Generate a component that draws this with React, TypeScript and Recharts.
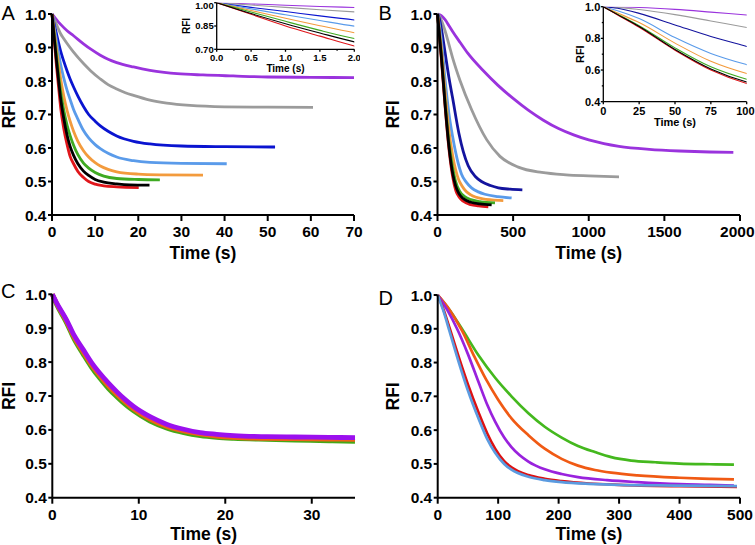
import React from 'react';
import { LineChart, Line, XAxis, YAxis, Label } from 'recharts';

type Pt = [number, number];

// ---------- Panel A (time s, RFI) ----------
const A_PURPLE: Pt[] = [[0,1],[0.5,0.992],[1,0.984],[1.5,0.976],[2,0.969],[3.5,0.95],[5,0.935],[7.3,0.911],[9,0.895],[11.2,0.877],[13,0.865],[15,0.855],[18.9,0.842],[22.7,0.832],[26,0.826],[29,0.822],[35,0.818],[42,0.815],[50,0.812],[60,0.811],[70,0.81]];
const A_GRAY: Pt[] = [[0,1],[0.5,0.985],[1,0.97],[1.5,0.955],[2,0.941],[2.7,0.927],[3.5,0.912],[5,0.886],[7.3,0.852],[9,0.83],[11.2,0.806],[13,0.789],[15,0.776],[17,0.765],[18.9,0.757],[22.7,0.743],[26.6,0.734],[32,0.727],[40,0.723],[50,0.722],[60.5,0.721]];
const A_BLUE: Pt[] = [[0,1],[0.5,0.97],[1,0.943],[1.5,0.915],[2,0.889],[2.7,0.86],[3.5,0.83],[4.2,0.806],[5,0.782],[6,0.755],[7.3,0.724],[8.5,0.7],[10,0.68],[11.2,0.666],[13,0.65],[15,0.636],[18.9,0.62],[22.7,0.612],[30,0.606],[40,0.604],[51.7,0.603]];
const A_LBLUE: Pt[] = [[0,1],[0.5,0.96],[1,0.922],[1.5,0.885],[2,0.849],[2.7,0.81],[3.5,0.772],[4.2,0.745],[5,0.715],[6,0.686],[7.3,0.652],[8.5,0.63],[10,0.61],[11.2,0.598],[13,0.584],[15,0.573],[18.9,0.562],[22.7,0.557],[30,0.554],[40.5,0.553]];
const A_ORANGE: Pt[] = [[0,1],[0.5,0.95],[1,0.9],[1.5,0.852],[2,0.807],[2.7,0.757],[3.5,0.712],[4.2,0.68],[5,0.65],[6,0.62],[7.3,0.592],[8.5,0.573],[10,0.556],[11.2,0.546],[13,0.536],[15,0.529],[20,0.522],[25,0.52],[35,0.519]];
const A_GREEN: Pt[] = [[0,1],[0.5,0.94],[1,0.88],[1.5,0.822],[2,0.769],[2.7,0.715],[3.5,0.668],[4.2,0.637],[5,0.608],[6,0.58],[7.3,0.555],[8.5,0.54],[10,0.527],[12,0.516],[15,0.509],[20,0.506],[25,0.505]];
const A_BLACK: Pt[] = [[0,1],[0.5,0.93],[1,0.865],[1.5,0.805],[2,0.748],[2.7,0.69],[3.5,0.638],[4.2,0.605],[5,0.578],[6,0.553],[7.3,0.531],[8.5,0.518],[10,0.506],[12,0.498],[15,0.493],[18,0.49],[22.6,0.489]];
const A_RED: Pt[] = [[0,1],[0.5,0.925],[1,0.85],[1.5,0.785],[2,0.721],[2.7,0.66],[3.5,0.61],[4.2,0.575],[5,0.553],[6,0.53],[7.3,0.512],[8.5,0.5],[10,0.492],[12,0.487],[15,0.484],[20.1,0.482]];

// ---------- Panel B ----------
const B_PURPLE: Pt[] = [[0,1],[25,0.995],[50,0.983],[75,0.966],[100,0.948],[150,0.915],[200,0.883],[300,0.832],[400,0.787],[500,0.748],[600,0.713],[700,0.683],[800,0.658],[900,0.639],[1000,0.624],[1100,0.613],[1200,0.605],[1400,0.596],[1600,0.591],[1800,0.588],[1956,0.587]];
const B_GRAY: Pt[] = [[0,1],[10,0.996],[25,0.982],[50,0.95],[75,0.91],[100,0.869],[150,0.8],[225,0.715],[325,0.625],[413,0.575],[534,0.543],[689,0.527],[850,0.52],[1000,0.517],[1200,0.514]];
const B_BLUE: Pt[] = [[0,1],[10,0.99],[25,0.958],[50,0.885],[75,0.812],[100,0.749],[141,0.645],[170,0.59],[203,0.547],[250,0.515],[291,0.5],[350,0.488],[402,0.481],[480,0.477],[561,0.475]];
const B_LBLUE: Pt[] = [[0,1],[10,0.975],[25,0.925],[50,0.805],[75,0.705],[100,0.634],[130,0.567],[159,0.522],[190,0.498],[225,0.481],[270,0.469],[313,0.462],[400,0.455],[490,0.451]];
const B_ORANGE: Pt[] = [[0,1],[10,0.96],[25,0.9],[50,0.77],[75,0.655],[100,0.578],[120,0.535],[140,0.505],[160,0.488],[190,0.47],[220,0.46],[300,0.448],[360,0.445],[435,0.443]];
const B_GREEN: Pt[] = [[0,1],[10,0.953],[25,0.88],[50,0.74],[75,0.62],[100,0.542],[120,0.5],[145,0.472],[180,0.455],[220,0.446],[280,0.44],[380,0.436]];
const B_BLACK: Pt[] = [[0,1],[10,0.95],[25,0.875],[50,0.73],[75,0.607],[100,0.525],[120,0.487],[140,0.465],[170,0.449],[220,0.438],[280,0.433],[358,0.43]];
const B_RED: Pt[] = [[0,1],[10,0.948],[25,0.87],[50,0.725],[75,0.6],[100,0.515],[121,0.473],[145,0.452],[170,0.441],[220,0.431],[270,0.427],[336,0.424]];

// ---------- Panel C ----------
const C_GREEN: Pt[] = [[0,1],[0.5,0.97],[1.66,0.915],[2.5,0.869],[3.6,0.822],[4.5,0.786],[5.5,0.752],[6.5,0.722],[7.45,0.698],[8.4,0.676],[9.4,0.656],[11.3,0.626],[13.2,0.606],[15.2,0.592],[17.1,0.583],[19,0.578],[21,0.575],[24.8,0.572],[28,0.57],[32,0.568],[35,0.566]];
const C_ORANGE: Pt[] = [[0,1],[0.5,0.973],[1.66,0.92],[2.5,0.875],[3.6,0.829],[4.5,0.793],[5.5,0.76],[6.5,0.73],[7.45,0.705],[8.4,0.683],[9.4,0.662],[11.3,0.632],[13.2,0.611],[15.2,0.597],[17.1,0.588],[19,0.582],[21,0.578],[24.8,0.575],[28,0.574],[32,0.573],[35,0.572]];
const C_PURPLE: Pt[] = [[0,1],[0.5,0.975],[1.66,0.924],[2.5,0.88],[3.6,0.836],[4.5,0.8],[5.5,0.767],[6.5,0.738],[7.45,0.713],[8.4,0.69],[9.4,0.669],[11.3,0.639],[13.2,0.617],[15.2,0.602],[17.1,0.592],[19,0.587],[21,0.583],[24.8,0.58],[28,0.579],[32,0.578],[35,0.577]];

// ---------- Panel D ----------
const D_GREEN: Pt[] = [[0,1],[20,0.955],[40,0.9],[68,0.82],[95,0.755],[122,0.7],[150,0.65],[177,0.61],[205,0.578],[232,0.553],[260,0.535],[287,0.52],[320,0.51],[360,0.505],[400,0.501],[450,0.499],[490,0.498]];
const D_ORANGE: Pt[] = [[0,1],[20,0.955],[40,0.895],[60,0.82],[80,0.75],[100,0.69],[122,0.635],[150,0.585],[177,0.545],[205,0.515],[232,0.495],[260,0.482],[287,0.474],[330,0.466],[400,0.459],[450,0.456],[490,0.454]];
const D_PURPLE: Pt[] = [[0,1],[16,0.955],[32,0.9],[50,0.825],[68,0.74],[82,0.675],[95,0.625],[110,0.578],[122,0.55],[150,0.507],[177,0.484],[205,0.47],[232,0.461],[280,0.452],[330,0.446],[400,0.44],[450,0.438],[490,0.436]];
const D_RED: Pt[] = [[0,1],[10,0.955],[20,0.9],[35,0.815],[50,0.735],[68,0.65],[82,0.59],[95,0.545],[110,0.508],[122,0.49],[150,0.467],[177,0.456],[205,0.449],[250,0.442],[300,0.438],[400,0.434],[495,0.432]];
const D_LBLUE: Pt[] = [[0,1],[10,0.95],[20,0.89],[35,0.8],[50,0.717],[68,0.632],[82,0.573],[95,0.533],[110,0.5],[122,0.483],[150,0.462],[177,0.452],[205,0.446],[250,0.441],[300,0.438],[400,0.436],[495,0.434]];

// ---------- Ticks ----------
const MAIN_Y_TICKS = [0.4, 0.5, 0.6, 0.7, 0.8, 0.9, 1.0];
const A_X_TICKS = [0, 10, 20, 30, 40, 50, 60, 70];
const B_X_TICKS = [0, 500, 1000, 1500, 2000];
const C_X_TICKS = [0, 10, 20, 30];
const D_X_TICKS = [0, 100, 200, 300, 400, 500];
const IA_X_TICKS = [0, 0.25, 0.5, 0.75, 1.0, 1.25, 1.5, 1.75, 2.0];
const IA_X_MAJOR = [0, 0.5, 1.0, 1.5, 2.0];
const IA_Y_TICKS = [0.7, 0.85, 1.0];
const IB_X_TICKS = [0, 25, 50, 75, 100];
const IB_Y_TICKS = [0.4, 0.5, 0.6, 0.7, 0.8, 0.9, 1.0];
const IB_Y_MAJOR = [0.4, 0.6, 0.8, 1.0];

const FONT = '"Liberation Sans", Arial, Helvetica, sans-serif';
const PAGE_W = 755;

const PURPLE = '#9A33DD';
const GRAY = '#9B9B9B';
const BLUE_A = '#0A14D0';
const BLUE_B = '#14149E';
const LBLUE = '#5A9BEA';
const ORANGE = '#F39B3D';
const GREEN = '#3FAA22';
const BLACK = '#000000';
const RED = '#E0161B';

interface Series { key: string; data: Pt[]; color: string }
interface AxisCfg {
  domain: [number, number];
  ticks: number[];
  major: number[];
  digits: number;
  tickSize: number;
  tickMargin: number;
  minorSize: number;
}
interface PanelCfg {
  left: number; top: number; width: number; height: number;
  margin: { top: number; right: number; bottom: number; left: number };
  yWidth: number; xHeight: number;
  x: AxisCfg; y: AxisCfg;
  series: Series[];
  strokeWidth: number;
  tickFont: number; titleFont: number; axisStroke: number;
  xTitleBaseline: number;
  yTitleX: number;
  clip?: boolean;
}

const isIn = (arr: number[], v: number) => arr.some((m) => Math.abs(m - v) < 1e-9);
const rows = (pts: Pt[]) => pts.map(([t, v]) => ({ t, v }));

function Panel({ c }: { c: PanelCfg }) {
  const plotLeft = c.margin.left + c.yWidth;
  const plotW = c.width - c.margin.left - c.margin.right - c.yWidth;
  const plotTop = c.margin.top;
  const plotH = c.height - c.margin.top - c.margin.bottom - c.xHeight;
  const plotBottom = plotTop + plotH;

  const yTick = (p: any) => {
    const { x, y, payload } = p;
    const v = payload.value as number;
    const maj = isIn(c.y.major, v);
    const ax = x + c.y.tickSize + c.y.tickMargin;
    const ty = Math.max(y, 0.6 * c.tickFont - c.top);
    return (
      <g>
        <line x1={ax - (maj ? c.y.tickSize : c.y.minorSize)} y1={y} x2={ax} y2={y} stroke="#000" strokeWidth={c.axisStroke} />
        {maj && (
          <text x={x} y={ty} dy="0.36em" textAnchor="end" fontSize={c.tickFont} fontWeight="bold" fontFamily={FONT} fill="#000">
            {v.toFixed(c.y.digits)}
          </text>
        )}
      </g>
    );
  };
  const xTick = (p: any) => {
    const { x, y, payload } = p;
    const v = payload.value as number;
    const maj = isIn(c.x.major, v);
    const ay = y - c.x.tickSize - c.x.tickMargin;
    const label = v.toFixed(c.x.digits);
    const halfW = (label.length * 0.556 * c.tickFont) / 2;
    const overflow = c.left + x + halfW > PAGE_W - 0.5;
    return (
      <g>
        <line x1={x} y1={ay} x2={x} y2={ay + (maj ? c.x.tickSize : c.x.minorSize)} stroke="#000" strokeWidth={c.axisStroke} />
        {maj && (
          <text
            x={overflow ? PAGE_W - 0.5 - c.left : x}
            y={y}
            dy="0.72em"
            textAnchor={overflow ? 'end' : 'middle'}
            fontSize={c.tickFont}
            fontWeight="bold"
            fontFamily={FONT}
            fill="#000"
          >
            {label}
          </text>
        )}
      </g>
    );
  };

  const xTitle = () => (
    <text x={plotLeft + plotW / 2} y={plotBottom + c.xTitleBaseline} textAnchor="middle" fontSize={c.titleFont} fontWeight="bold" fontFamily={FONT} fill="#000">
      Time (s)
    </text>
  );
  const cy = plotTop + plotH / 2;
  const yTitle = () => (
    <text x={c.yTitleX} y={cy} dy="0.36em" transform={`rotate(-90 ${c.yTitleX} ${cy})`} textAnchor="middle" fontSize={c.titleFont} fontWeight="bold" fontFamily={FONT} fill="#000">
      RFI
    </text>
  );

  return (
    <div style={{ position: 'absolute', left: c.left, top: c.top, width: c.width, height: c.height }}>
      <LineChart width={c.width} height={c.height} margin={c.margin}>
        <XAxis
          dataKey="t"
          type="number"
          domain={c.x.domain}
          ticks={c.x.ticks}
          interval={0}
          allowDataOverflow={!!c.clip}
          height={c.xHeight}
          tickSize={c.x.tickSize}
          tickMargin={c.x.tickMargin}
          tickLine={false}
          axisLine={{ stroke: '#000', strokeWidth: c.axisStroke }}
          tick={xTick}
        >
          <Label content={xTitle} />
        </XAxis>
        <YAxis
          dataKey="v"
          type="number"
          domain={c.y.domain}
          ticks={c.y.ticks}
          interval={0}
          allowDataOverflow={!!c.clip}
          width={c.yWidth}
          tickSize={c.y.tickSize}
          tickMargin={c.y.tickMargin}
          tickLine={false}
          axisLine={{ stroke: '#000', strokeWidth: c.axisStroke }}
          tick={yTick}
        >
          <Label content={yTitle} />
        </YAxis>
        {c.series.map((s) => (
          <Line
            key={s.key}
            data={rows(s.data)}
            dataKey="v"
            type="monotone"
            stroke={s.color}
            strokeWidth={c.strokeWidth}
            dot={false}
            activeDot={false}
            isAnimationActive={false}
          />
        ))}
      </LineChart>
    </div>
  );
}

const seriesA: Series[] = [
  { key: 'purple', data: A_PURPLE, color: PURPLE },
  { key: 'gray', data: A_GRAY, color: GRAY },
  { key: 'blue', data: A_BLUE, color: BLUE_A },
  { key: 'lblue', data: A_LBLUE, color: LBLUE },
  { key: 'orange', data: A_ORANGE, color: ORANGE },
  { key: 'green', data: A_GREEN, color: GREEN },
  { key: 'red', data: A_RED, color: RED },
  { key: 'black', data: A_BLACK, color: BLACK },
];
const seriesB: Series[] = [
  { key: 'purple', data: B_PURPLE, color: PURPLE },
  { key: 'gray', data: B_GRAY, color: GRAY },
  { key: 'blue', data: B_BLUE, color: BLUE_B },
  { key: 'lblue', data: B_LBLUE, color: LBLUE },
  { key: 'orange', data: B_ORANGE, color: ORANGE },
  { key: 'green', data: B_GREEN, color: GREEN },
  { key: 'red', data: B_RED, color: RED },
  { key: 'black', data: B_BLACK, color: BLACK },
];
const seriesC: Series[] = [
  { key: 'green', data: C_GREEN, color: '#45A815' },
  { key: 'orange', data: C_ORANGE, color: '#F0601A' },
  { key: 'purple', data: C_PURPLE, color: '#9B10EE' },
];
const seriesD: Series[] = [
  { key: 'green', data: D_GREEN, color: '#44B81E' },
  { key: 'orange', data: D_ORANGE, color: '#F05A14' },
  { key: 'purple', data: D_PURPLE, color: '#9922DD' },
  { key: 'red', data: D_RED, color: '#DD1111' },
  { key: 'lblue', data: D_LBLUE, color: '#5B9BE0' },
];

const mainY: AxisCfg = { domain: [0.4, 1.0], ticks: MAIN_Y_TICKS, major: MAIN_Y_TICKS, digits: 1, tickSize: 4, tickMargin: 1.5, minorSize: 2 };
const mainX = (domain: [number, number], ticks: number[]): AxisCfg => ({ domain, ticks, major: ticks, digits: 0, tickSize: 6, tickMargin: 5, minorSize: 3 });

const panelA: PanelCfg = {
  left: 0, top: 0, width: 372, height: 272,
  margin: { top: 14, right: 18, bottom: 7, left: 0 }, yWidth: 52, xHeight: 50,
  x: mainX([0, 70], A_X_TICKS), y: mainY, series: seriesA, strokeWidth: 2.8,
  tickFont: 15.5, titleFont: 17.5, axisStroke: 2, xTitleBaseline: 44, yTitleX: 8.3,
};
const panelB: PanelCfg = {
  left: 378, top: 0, width: 377, height: 272,
  margin: { top: 14, right: 15, bottom: 7, left: 0 }, yWidth: 59.5, xHeight: 50,
  x: mainX([0, 2000], B_X_TICKS), y: mainY, series: seriesB, strokeWidth: 2.8,
  tickFont: 15.5, titleFont: 17.5, axisStroke: 2, xTitleBaseline: 44, yTitleX: 14.7,
};
const panelC: PanelCfg = {
  left: 0, top: 272, width: 372, height: 273,
  margin: { top: 22.3, right: 17, bottom: 1.3, left: 0 }, yWidth: 52.3, xHeight: 46,
  x: mainX([0, 35], C_X_TICKS), y: mainY, series: seriesC, strokeWidth: 4.8,
  tickFont: 15.5, titleFont: 17.5, axisStroke: 2, xTitleBaseline: 42.3, yTitleX: 8.3,
};
const panelD: PanelCfg = {
  left: 378, top: 272, width: 377, height: 273,
  margin: { top: 23, right: 15, bottom: 1.3, left: 0 }, yWidth: 59.7, xHeight: 46,
  x: mainX([0, 500], D_X_TICKS), y: mainY, series: seriesD, strokeWidth: 2.7,
  tickFont: 15.5, titleFont: 17.5, axisStroke: 2, xTitleBaseline: 42.3, yTitleX: 14.7,
};
const insetA: PanelCfg = {
  left: 175, top: 0, width: 185, height: 75,
  margin: { top: 2.7, right: 5.7, bottom: 1.7, left: 0 }, yWidth: 41.7, xHeight: 24,
  x: { domain: [0, 2], ticks: IA_X_TICKS, major: IA_X_MAJOR, digits: 1, tickSize: 2.5, tickMargin: 2, minorSize: 1.5 },
  y: { domain: [0.7, 1.0], ticks: IA_Y_TICKS, major: IA_Y_TICKS, digits: 2, tickSize: 2.5, tickMargin: 0.5, minorSize: 1.5 },
  series: seriesA, strokeWidth: 1.1,
  tickFont: 9.5, titleFont: 10, axisStroke: 1.3, xTitleBaseline: 22.4, yTitleX: 11.5, clip: true,
};
const insetB: PanelCfg = {
  left: 575, top: 0, width: 180, height: 130,
  margin: { top: 6.7, right: 8.3, bottom: 2.3, left: 0 }, yWidth: 28.3, xHeight: 26,
  x: { domain: [0, 100], ticks: IB_X_TICKS, major: IB_X_TICKS, digits: 0, tickSize: 2.5, tickMargin: 2.8, minorSize: 1.5 },
  y: { domain: [0.4, 1.0], ticks: IB_Y_TICKS, major: IB_Y_MAJOR, digits: 1, tickSize: 2.5, tickMargin: 0.5, minorSize: 1.5 },
  series: seriesB, strokeWidth: 1.1,
  tickFont: 11, titleFont: 11, axisStroke: 1.3, xTitleBaseline: 24.3, yTitleX: 5, clip: true,
};

export default function App() {
  const letter = { fontFamily: FONT, fontSize: 20, fill: '#000' } as const;
  return (
    <div style={{ position: 'absolute', left: 0, top: 0, width: 755, height: 545, background: '#fff', overflow: 'hidden' }}>
      <svg width={755} height={545} style={{ position: 'absolute', left: 0, top: 0 }}>
        <text x={1.5} y={20} {...letter}>A</text>
        <text x={378.5} y={20} {...letter}>B</text>
        <text x={1} y={298} {...letter}>C</text>
        <text x={378.5} y={305} {...letter}>D</text>
      </svg>
      <Panel c={panelA} />
      <Panel c={panelB} />
      <Panel c={panelC} />
      <Panel c={panelD} />
      <Panel c={insetA} />
      <Panel c={insetB} />
    </div>
  );
}
